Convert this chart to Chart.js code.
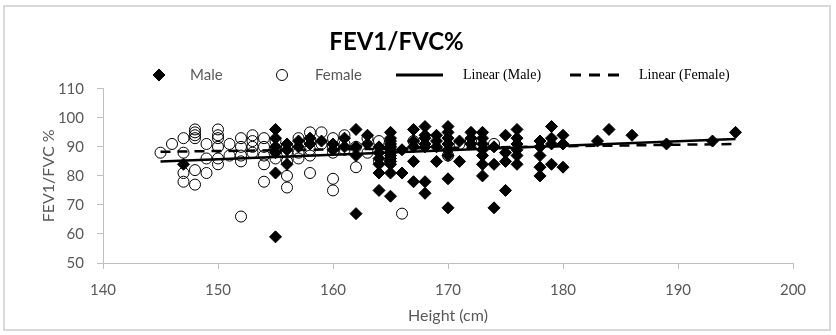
<!DOCTYPE html>
<html>
<head>
<meta charset="utf-8">
<script src="https://cdn.jsdelivr.net/npm/chart.js@4.4.0/dist/chart.umd.min.js"></script>
<style>
  html, body { margin: 0; padding: 0; background: #fff; }
  #wrap { width: 836px; height: 335px; position: relative; }
</style>
</head>
<body>
<div id="wrap"><canvas id="chart" width="836" height="335"></canvas></div>
<script>
// values
const maleHeight = [147,
  155,155,155,155,155,155, 156,156,156, 157,157, 158,158, 159, 160,160, 161,161,
  162,162,162,162, 163,163, 164,164,164,164,164,164,
  165,165,165,165,165,165,165,165,165,165,165,165,165, 166,166,
  167,167,167,167,167, 168,168,168,168,168,168,168, 169,169,169,169,
  170,170,170,170,170,170,170,170, 171,171, 172,172,172,
  173,173,173,173,173,173,173, 174,174,174, 175,175,175,175,
  176,176,176,176,176,176, 178,178,178,178,178, 179,179,179,179,
  180,180,180, 183, 184, 186, 189, 193, 195];
const maleRatio = [84,
  96,93,90,88,81,59, 91,89,84, 92,90, 93,91, 92, 91,89, 93,90,
  96,90,87,67, 94,91, 90,88,86,84,81,75,
  95,93,92,91,90,89,88,87,86,85,84,81,73, 89,81,
  96,92,90,85,78, 97,94,93,91,90,78,74, 94,92,90,85,
  97,95,93,91,89,87,79,69, 92,85, 95,93,91,
  95,93,91,89,87,84,80, 90,84,69, 94,88,85,75,
  96,93,91,89,87,84, 92,90,87,83,80, 97,93,91,84,
  94,91,83, 92, 96, 94, 91, 92, 95];

const femaleHeight = [145, 146, 147,147,147,147, 148,148,148,148,148,148, 149,149,149,
  150,150,150,150,150,150, 151,151, 152,152,152,152,152, 153,153,153,153,
  154,154,154,154,154, 155,155,155, 156,156,156,156,156, 157,157,157,
  158,158,158,158,158, 159,159, 160,160,160,160,160, 161,161,161,
  162,162, 163,163, 164,164, 165, 166, 167, 170, 171, 172, 174];
const femaleRatio = [88, 91, 93,88,81,78, 96,95,94,93,82,77, 91,86,81,
  96,94,93,90,86,84, 91,87, 93,90,87,85,66, 94,92,90,88,
  93,90,87,84,78, 92,89,86, 90,88,85,80,76, 93,88,86,
  95,92,89,87,81, 95,91, 93,90,88,79,75, 94,91,89,
  90,83, 93,88, 92,85, 90, 67, 92, 87, 91, 92, 91];

const trendHeight = [145, 195];
const maleTrend = [85, 92.7];
const femaleTrend = [88.3, 91];

const xTicks = [140, 150, 160, 170, 180, 190, 200];
const yTicks = [50, 60, 70, 80, 90, 100, 110];

const toPts = (xs, ys) => xs.map((x, i) => ({ x: x, y: ys[i] }));

const grey = '#595959';
const axisCol = '#bfbfbf';

// frame round the whole chart, like the spreadsheet chart box
const framePlugin = {
  id: 'frame',
  beforeDraw(chart) {
    const ctx = chart.ctx;
    ctx.save();
    ctx.fillStyle = '#fff';
    ctx.fillRect(0, 0, chart.width, chart.height);
    ctx.strokeStyle = '#d9d9d9';
    ctx.lineWidth = 2;
    ctx.strokeRect(4, 6, 826, 324);
    ctx.restore();
  }
};

// legend with two fonts, so drawn by hand
const legendPlugin = {
  id: 'mixedLegend',
  afterDraw(chart) {
    const ctx = chart.ctx;
    const y = 75;
    ctx.save();
    ctx.fillStyle = '#000'; ctx.strokeStyle = '#000'; ctx.lineWidth = 1;
    Chart.helpers.drawPoint(ctx, { pointStyle: 'rectRot', radius: 6, borderWidth: 1 }, 159, y);

    ctx.beginPath();
    ctx.arc(282, y, 5.5, 0, Math.PI * 2);
    ctx.stroke();

    ctx.font = '15px Lato';
    ctx.fillStyle = grey;
    ctx.textBaseline = 'middle';
    ctx.textAlign = 'left';
    ctx.fillText('Male', 190, y);
    ctx.fillText('Female', 315, y);

    ctx.strokeStyle = '#000';
    ctx.lineWidth = 3;
    ctx.beginPath(); ctx.moveTo(396, y); ctx.lineTo(443, y); ctx.stroke();
    ctx.setLineDash([11, 8]);
    ctx.beginPath(); ctx.moveTo(570, y); ctx.lineTo(625, y); ctx.stroke();
    ctx.setLineDash([]);

    ctx.font = '14px "Liberation Serif"';
    ctx.fillStyle = '#000';
    ctx.fillText('Linear (Male)', 463, y);
    ctx.fillText('Linear (Female)', 639, y);
    ctx.restore();
  }
};

new Chart(document.getElementById('chart'), {
  type: 'scatter',
  data: {
    datasets: [
      {
        label: 'Linear (Male)',
        data: toPts(trendHeight, maleTrend),
        showLine: true,
        borderColor: '#000',
        borderWidth: 2.5,
        pointRadius: 0,
        order: 0
      },
      {
        label: 'Linear (Female)',
        data: toPts(trendHeight, femaleTrend),
        showLine: true,
        borderColor: '#000',
        borderWidth: 2.5,
        borderDash: [10, 7],
        pointRadius: 0,
        order: 0
      },
      {
        label: 'Female',
        data: toPts(femaleHeight, femaleRatio),
        pointStyle: 'circle',
        pointRadius: 5.5,
        pointBorderWidth: 1,
        pointBorderColor: '#000',
        pointBackgroundColor: 'rgba(255,255,255,0)',
        order: 1
      },
      {
        label: 'Male',
        data: toPts(maleHeight, maleRatio),
        pointStyle: 'rectRot',
        pointRadius: 6,
        pointBorderWidth: 1,
        pointBorderColor: '#000',
        pointBackgroundColor: '#000',
        order: 2
      }
    ]
  },
  options: {
    responsive: false,
    animation: false,
    layout: { padding: { left: 0, right: 43, top: 0, bottom: 0 } },
    plugins: {
      legend: { display: false },
      tooltip: { enabled: false },
      title: {
        display: true,
        text: 'FEV1/FVC%',
        color: '#000',
        font: { family: 'Lato', size: 24, weight: 'bold' },
        padding: { top: 28, bottom: 32 }
      }
    },
    scales: {
      x: {
        type: 'linear',
        min: 140,
        max: 200,
        afterBuildTicks(scale) { scale.ticks = xTicks.map(v => ({ value: v })); },
        afterFit(scale) { scale.height = 72; },
        ticks: { color: grey, font: { family: 'Lato', size: 15 }, padding: 12 },
        grid: { drawOnChartArea: false, drawTicks: true, tickLength: 6, color: axisCol },
        border: { color: axisCol },
        title: {
          display: true,
          text: 'Height (cm)',
          color: grey,
          font: { family: 'Lato', size: 16 },
          padding: { top: 0, bottom: 10 }
        }
      },
      y: {
        min: 50,
        max: 110,
        afterBuildTicks(scale) { scale.ticks = yTicks.map(v => ({ value: v })); },
        afterFit(scale) { scale.width = 103; },
        ticks: { color: grey, font: { family: 'Lato', size: 15 }, padding: 13 },
        grid: { drawOnChartArea: false, drawTicks: true, tickLength: 6, color: axisCol },
        border: { color: axisCol },
        title: {
          display: true,
          text: 'FEV1/FVC %',
          color: grey,
          font: { family: 'Lato', size: 16 },
          padding: { top: 39, bottom: 0 }
        }
      }
    }
  },
  plugins: [framePlugin, legendPlugin]
});
</script>
</body>
</html>
